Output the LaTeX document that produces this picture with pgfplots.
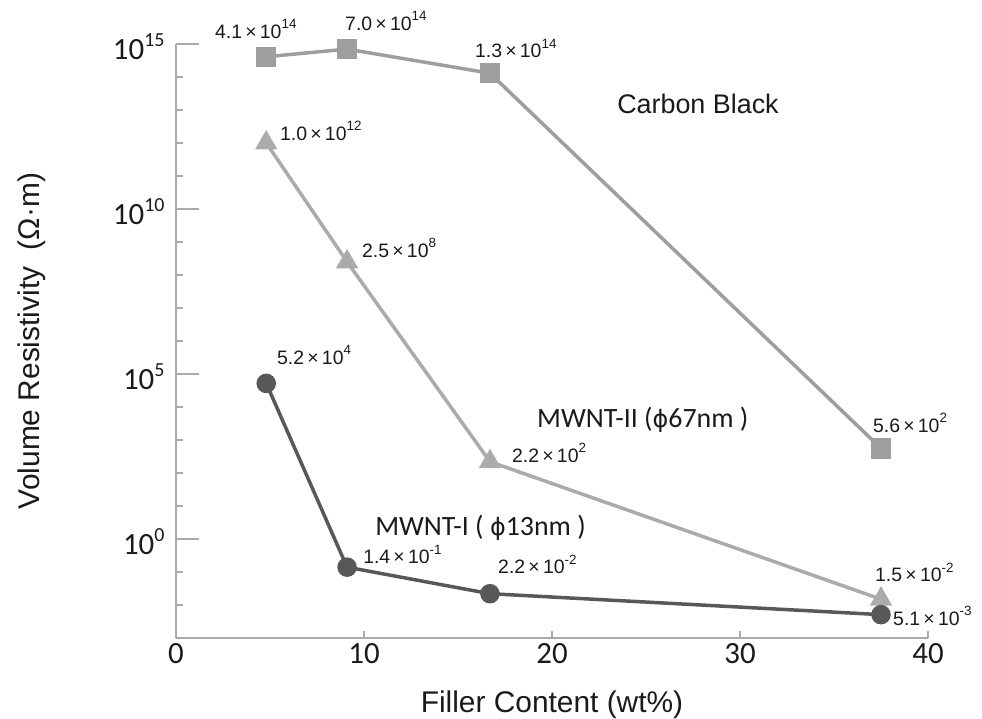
\documentclass[border=0pt]{standalone}
\usepackage{fontspec}
\setmainfont{Liberation Sans}
\newfontfamily\calfont{Carlito}
\newfontfamily\dvfont{DejaVu Sans}
\usepackage{pgfplots}
\pgfplotsset{compat=1.18}
\definecolor{cbg}{HTML}{9E9E9E}
\definecolor{mtwo}{HTML}{ABABAB}
\definecolor{mone}{HTML}{585858}
\definecolor{axg}{HTML}{AAAAAA}
\definecolor{txt}{HTML}{1A1A1A}
\newcommand{\ann}[2]{{\fontsize{19.5}{19.5}\selectfont #1\,×\,10\raisebox{0.5em}{\fontsize{13.5}{13.5}\selectfont #2}}}
\newcommand{\pw}[1]{10\raisebox{0.42em}{\fontsize{20}{20}\selectfont #1}}
\newcommand{\phisym}{{\dvfont\fontsize{24}{24}\selectfont ϕ}}
\begin{document}
\begin{tikzpicture}
\useasboundingbox (0,0) rectangle (982bp,719bp);
\begin{axis}[
  at={(176bp,81bp)}, anchor=south west,
  scale only axis, width=752bp, height=594bp,
  xmin=0, xmax=40, ymode=log, ymin=1e-3, ymax=1e15,
  axis x line*=bottom, axis y line*=left,
  axis line style={axg, line width=1.8bp},
  tick align=inside,
  xtick={0,10,20,30,40}, xticklabels={0,10,20,30,40},
  major x tick style={draw=none},
  minor xtick={10,20,30,40},
  ytick={1e0,1e5,1e10,1e15},
  yticklabels={\pw{0},\pw{5},\pw{10},\pw{15}},
  minor ytick={1e-2,1e-1,1e1,1e2,1e3,1e4,1e6,1e7,1e8,1e9,1e11,1e12,1e13,1e14},
  major tick length=23bp, minor tick length=7bp,
  tick style={axg, line width=1.8bp},
  tick label style={font=\calfont\fontsize{31}{36}\selectfont, text=txt},
  yticklabel style={xshift=-8bp, yshift=-3bp},
  xticklabel style={yshift=-2bp},
  xlabel={Filler Content (wt\%)},
  xlabel style={font=\fontsize{30}{36}\selectfont, text=txt, at={(axis description cs:0.5,-0.126)}, anchor=base},
  ylabel={Volume Resistivity\ \ (Ω·m)},
  ylabel style={font=\fontsize{30}{36}\selectfont, text=txt, at={(axis description cs:-0.181,0.5)}, anchor=base},
  clip=false,
]
\addplot[cbg, line width=3.5bp, mark=square*, mark size=8.5bp, mark options={fill=cbg, draw=none}]
  coordinates {(4.8,4.1e14) (9.1,7.0e14) (16.7,1.3e14) (37.5,5.6e2)};
\addplot[mtwo, line width=3.5bp, mark=triangle*, mark size=9.5bp, mark options={fill=mtwo, draw=none}]
  coordinates {(4.8,1.0e12) (9.1,2.5e8) (16.7,2.2e2) (37.5,1.5e-2)};
\addplot[mone, line width=3.5bp, mark=*, mark size=8bp, mark options={fill=mone, draw=none}]
  coordinates {(4.8,5.2e4) (9.1,1.4e-1) (16.7,2.2e-2) (37.5,5.1e-3)};

\begin{scope}[every node/.style={anchor=base west, inner sep=0pt, text=txt}]
\node at (axis cs:2.07,1.5e15) {\ann{4.1}{14}};
\node at (axis cs:8.99,2.65e15) {\ann{7.0}{14}};
\node at (axis cs:15.90,3.8e14) {\ann{1.3}{14}};
\node at (axis cs:37.07,1.74e3) {\ann{5.6}{2}};
\node at (axis cs:5.53,1.23e12) {\ann{1.0}{12}};
\node at (axis cs:9.89,3.5e8) {\ann{2.5}{8}};
\node at (axis cs:17.87,2.1e2) {\ann{2.2}{2}};
\node at (axis cs:37.18,5.0e-2) {\ann{1.5}{-2}};
\node at (axis cs:5.37,2.0e5) {\ann{5.2}{4}};
\node at (axis cs:9.95,0.175) {\ann{1.4}{-1}};
\node at (axis cs:17.13,0.087) {\ann{2.2}{-2}};
\node at (axis cs:38.14,2.45e-3) {\ann{5.1}{-3}};
\node[font=\fontsize{27}{32}\selectfont] at (axis cs:23.46,7.6e12) {Carbon Black};
\node[font=\calfont\fontsize{28}{32}\selectfont] at (axis cs:19.2,2.45e3) {MWNT-II (\phisym67nm )};
\node[font=\calfont\fontsize{28}{32}\selectfont] at (axis cs:10.59,1.32) {MWNT-I ( \phisym13nm )};
\end{scope}
\end{axis}
\end{tikzpicture}
\end{document}
